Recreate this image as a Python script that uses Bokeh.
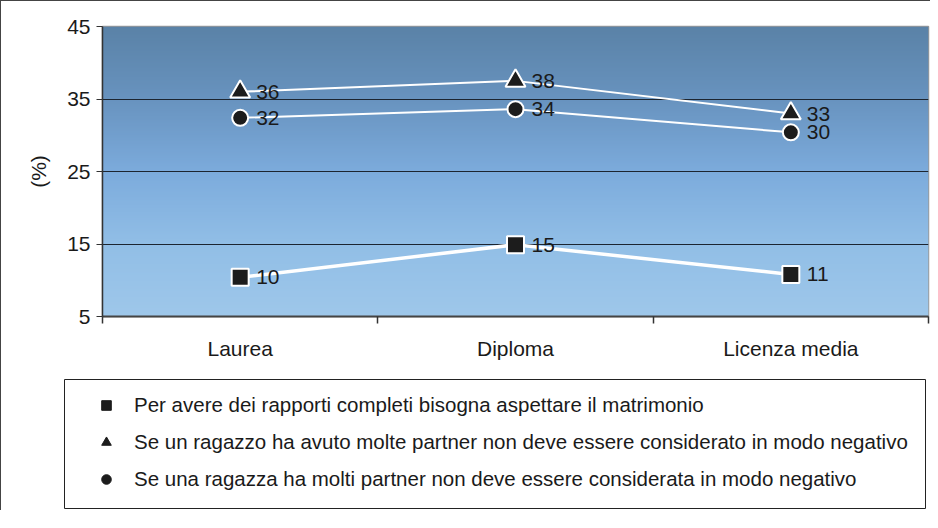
import numpy as np
from bokeh.plotting import figure
from bokeh.layouts import column
from bokeh.models import Range1d, FixedTicker, Legend, LegendItem, ColumnDataSource
from bokeh.embed import file_html
from bokeh.resources import INLINE
from bokeh.core.properties import value

# ---------------- data ----------------
categories = ["Laurea", "Diploma", "Licenza media"]
series_names = [
    "Per avere dei rapporti completi bisogna aspettare il matrimonio",
    "Se un ragazzo ha avuto molte partner non deve essere considerato in modo negativo",
    "Se una ragazza ha molti partner non deve essere considerata in modo negativo",
]
aspettare = [10.4, 14.9, 10.8]
ragazzo = [36.0, 37.5, 33.0]
ragazza = [32.4, 33.6, 30.4]
labels_aspettare = ["10", "15", "11"]
labels_ragazzo = ["36", "38", "33"]
labels_ragazza = ["32", "34", "30"]
y_ticks = [5, 15, 25, 35, 45]

FONT = "Liberation Sans"
TXT = "#1a1a1a"

xs = [i + 0.5 for i in range(len(categories))]
bounds = list(range(len(categories) + 1))

p = figure(width=930, height=368,
           x_range=Range1d(bounds[0], bounds[-1]),
           y_range=Range1d(y_ticks[0], y_ticks[-1]),
           output_backend="svg", toolbar_location=None,
           min_border_left=101, min_border_right=3,
           min_border_top=25, min_border_bottom=53)
p.styles = {"border-top": "1px solid #444", "border-left": "1px solid #444"}

# gradient background (decoration)
stops_t = [0.0, 0.25, 0.5, 0.75, 1.0]  # from top to bottom
stops_c = [(90, 130, 167), (104, 147, 191), (124, 171, 220), (145, 190, 230), (158, 199, 234)]
N = 256
img = np.empty((N, 1), dtype=np.uint32)
view = img.view(dtype=np.uint8).reshape((N, 1, 4))
for r in range(N):
    t = 1.0 - r / (N - 1)  # row 0 is bottom
    for ch in range(3):
        view[r, 0, ch] = int(round(np.interp(t, stops_t, [c[ch] for c in stops_c])))
    view[r, 0, 3] = 255
p.image_rgba(image=[img], x=bounds[0], y=y_ticks[0], dw=bounds[-1] - bounds[0],
             dh=y_ticks[-1] - y_ticks[0], level="image")

series = [
    (aspettare, labels_aspettare, "square", 17, 3.5),
    (ragazzo, labels_ragazzo, "triangle", 20, 2),
    (ragazza, labels_ragazza, "circle", 16, 2),
]
for vals, labs, marker, size, lw in series:
    src = ColumnDataSource(dict(x=xs, y=vals, lab=labs))
    p.line("x", "y", source=src, line_color="white", line_width=lw)
    p.scatter("x", "y", source=src, marker=marker, size=size,
              fill_color="#1c1c1c", line_color="white", line_width=2)
    p.text("x", "y", text="lab", source=src, x_offset=16, text_baseline="middle",
           text_align="left", text_font=value(FONT), text_font_size="21px",
           text_color=TXT)

# y axis
p.yaxis.ticker = FixedTicker(ticks=y_ticks)
p.yaxis.major_tick_out = 6
p.yaxis.major_tick_in = 0
p.yaxis.minor_tick_out = 0
p.yaxis.minor_tick_in = 0
p.yaxis.axis_line_color = "#333333"
p.yaxis.axis_line_width = 1.5
p.yaxis.major_tick_line_color = "#333333"
p.yaxis.major_label_text_font = FONT
p.yaxis.major_label_text_font_size = "21px"
p.yaxis.major_label_text_color = TXT
p.yaxis.major_label_standoff = 6
p.yaxis.axis_label = "(%)"
p.yaxis.axis_label_text_font = FONT
p.yaxis.axis_label_text_font_size = "21px"
p.yaxis.axis_label_text_font_style = "normal"
p.yaxis.axis_label_text_color = TXT
p.yaxis.axis_label_standoff = 14

p.ygrid.ticker = FixedTicker(ticks=y_ticks[1:-1])
p.ygrid.grid_line_color = "#1c2530"
p.ygrid.grid_line_width = 1
p.xgrid.visible = False

# x axis
p.xaxis.ticker = FixedTicker(ticks=xs, minor_ticks=bounds)
p.xaxis.major_label_overrides = {x: c for x, c in zip(xs, categories)}
p.xaxis.major_tick_line_color = None
p.xaxis.major_tick_out = 0
p.xaxis.major_tick_in = 0
p.xaxis.minor_tick_out = 7
p.xaxis.minor_tick_in = 0
p.xaxis.minor_tick_line_color = "#333333"
p.xaxis.minor_tick_line_width = 1.5
p.xaxis.axis_line_color = "#444444"
p.xaxis.axis_line_width = 2
p.xaxis.major_label_standoff = 13
p.xaxis.major_label_text_font = FONT
p.xaxis.major_label_text_font_size = "21px"
p.xaxis.major_label_text_color = TXT

p.outline_line_color = "#9a9a9a"
p.outline_line_width = 1.5
p.border_fill_color = "white"

# ---------------- legend panel ----------------
pleg = figure(width=930, height=142, x_range=Range1d(100, 101), y_range=Range1d(100, 101),
              output_backend="svg", toolbar_location=None,
              x_axis_type=None, y_axis_type=None,
              min_border_left=63, min_border_right=6,
              min_border_top=11, min_border_bottom=2)
pleg.styles = {"border-left": "1px solid #444"}
pleg.outline_line_color = "#222222"
pleg.outline_line_width = 1
pleg.background_fill_color = "white"
pleg.border_fill_color = "white"

items = []
for (vals, labs, marker, size, lw), name in zip(series, series_names):
    r = pleg.scatter(x=xs, y=vals, marker=marker, fill_color="#1c1c1c",
                     line_color="#1c1c1c", line_width=1)
    items.append(LegendItem(label=name, renderers=[r]))

legend = Legend(items=items, location="top_left", margin=14, padding=0,
                glyph_width=56, glyph_height=24, label_height=24, spacing=13,
                label_standoff=-3, border_line_color=None,
                background_fill_alpha=0,
                label_text_font=FONT, label_text_font_size="20.5px",
                label_text_color=TXT)
pleg.add_layout(legend, "center")

layout = column(p, column(pleg, spacing=0), spacing=0)
open("out.html", "w").write(file_html(layout, INLINE))
